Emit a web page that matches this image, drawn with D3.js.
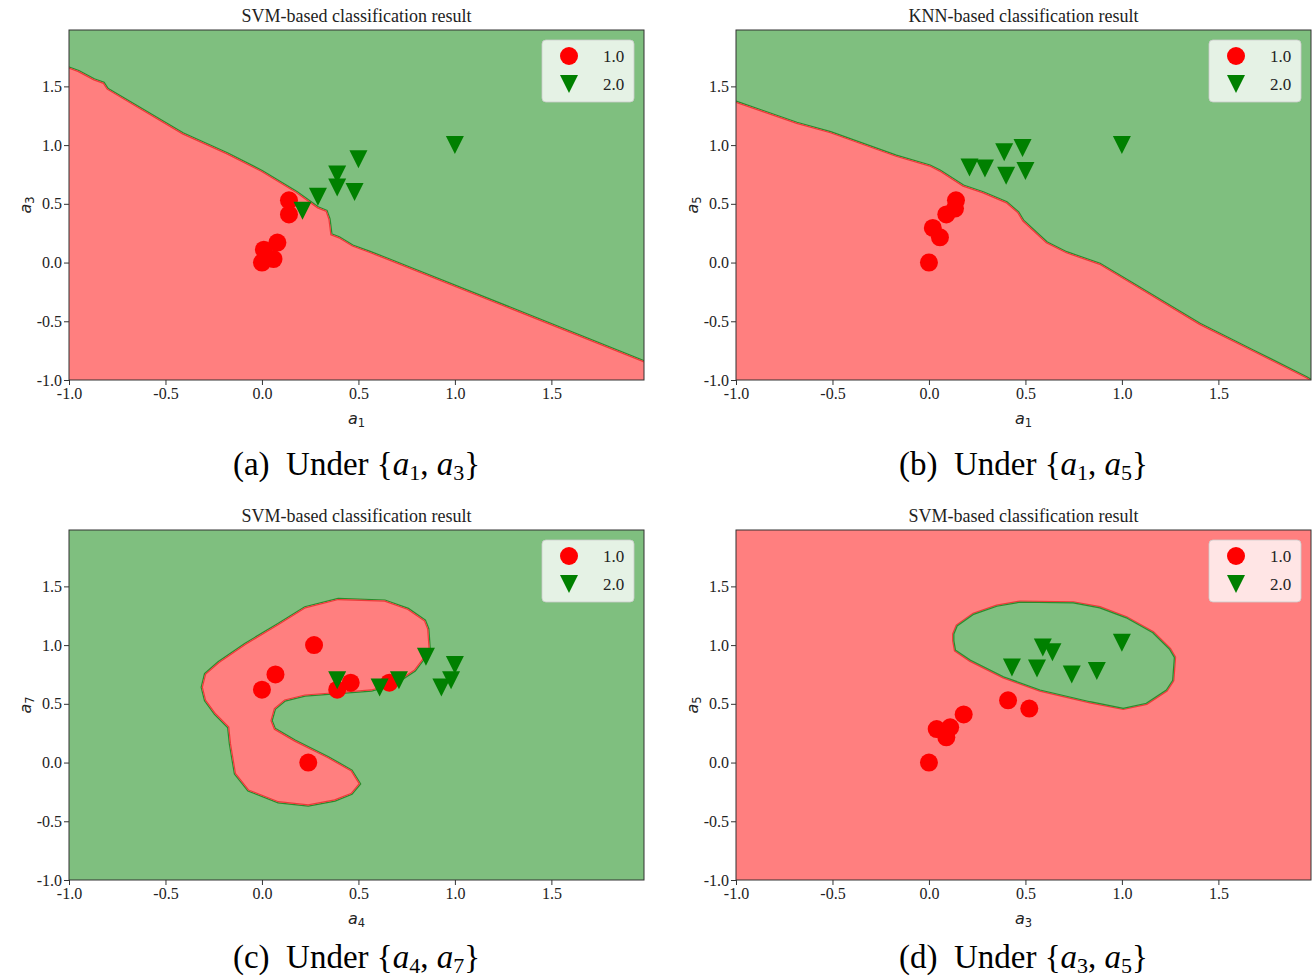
<!DOCTYPE html>
<html>
<head>
<meta charset="utf-8">
<script src="https://cdn.jsdelivr.net/npm/d3@7"></script>
<style>
  html, body { margin: 0; padding: 0; background: #fff; }
  svg { display: block; }
</style>
</head>
<body>
<svg id="fig" width="1313" height="980"></svg>
<script>
// ---- shared axis settings ----
const axisMin = -1.0;
const axisMax = 1.98;
const xTicks = [-1.0, -0.5, 0.0, 0.5, 1.0, 1.5];
const yTicks = [-1.0, -0.5, 0.0, 0.5, 1.0, 1.5];
const classLabels = ["1.0", "2.0"];

// ---- panel text ----
const panelTitles = [
  "SVM-based classification result",
  "KNN-based classification result",
  "SVM-based classification result",
  "SVM-based classification result"
];
const panelLetters = ["a", "b", "c", "d"];
const panelXAttr = ["1", "1", "4", "3"];
const panelYAttr = ["3", "5", "7", "5"];
// class that fills the background; the polygon holds the other class
const panelBackground = [2, 2, 2, 1];

// ---- samples, class 1.0 ----
const class1A = [[0.00, 0.00], [0.01, 0.11], [0.06, 0.03], [0.08, 0.17], [0.14, 0.41], [0.14, 0.53]];
const class1B = [[0.00, 0.00], [0.057, 0.215], [0.02, 0.295], [0.09, 0.41], [0.135, 0.46], [0.14, 0.53]];
const class1C = [[0.00, 0.62], [0.07, 0.75], [0.27, 1.00], [0.24, 0.00], [0.39, 0.62], [0.46, 0.68], [0.66, 0.68]];
const class1D = [[0.00, 0.00], [0.04, 0.285], [0.09, 0.215], [0.11, 0.30], [0.18, 0.41], [0.41, 0.53], [0.52, 0.46]];

// ---- samples, class 2.0 ----
const class2A = [[0.21, 0.44], [0.29, 0.56], [0.39, 0.64], [0.39, 0.75], [0.48, 0.60], [0.50, 0.88], [1.00, 1.00]];
const class2B = [[0.21, 0.81], [0.29, 0.80], [0.39, 0.94], [0.485, 0.975], [0.40, 0.74], [0.50, 0.78], [1.00, 1.00]];
const class2C = [[0.39, 0.70], [0.61, 0.64], [0.71, 0.70], [0.85, 0.90], [1.00, 0.83], [0.98, 0.70], [0.93, 0.64]];
const class2D = [[0.43, 0.81], [0.56, 0.80], [0.59, 0.98], [0.64, 0.94], [0.74, 0.75], [0.87, 0.78], [1.00, 1.02]];

// ---- decision boundaries ----
// (a) and (b): line from the left edge to the right edge; class 1.0 lies below it
const boundaryA = [[-1.0, 1.66], [-0.95, 1.63], [-0.87, 1.56], [-0.82, 1.53], [-0.80, 1.48], [-0.41, 1.10],
  [-0.18, 0.93], [0.0, 0.78], [0.18, 0.60], [0.29, 0.47], [0.335, 0.44], [0.35, 0.37], [0.36, 0.24],
  [0.40, 0.215], [0.47, 0.145], [0.56, 0.09], [0.655, 0.03], [1.98, -0.84]];
const boundaryB = [[-1.0, 1.37], [-0.86, 1.29], [-0.685, 1.19], [-0.51, 1.11], [-0.34, 1.01], [-0.17, 0.91],
  [0.005, 0.826], [0.057, 0.783], [0.178, 0.655], [0.281, 0.598], [0.403, 0.513], [0.463, 0.428],
  [0.489, 0.357], [0.61, 0.173], [0.713, 0.088], [0.886, -0.011], [1.059, -0.181], [1.404, -0.522],
  [1.68, -0.749], [1.957, -0.976], [1.98, -1.0]];
// (c): closed region of class 1.0
const regionC = [[0.395, 1.393], [0.637, 1.379], [0.758, 1.308], [0.845, 1.209], [0.862, 1.138], [0.870, 0.953],
  [0.845, 0.896], [0.793, 0.783], [0.689, 0.670], [0.568, 0.613], [0.344, 0.585], [0.223, 0.570],
  [0.119, 0.528], [0.067, 0.457], [0.050, 0.357], [0.067, 0.287], [0.171, 0.187], [0.344, 0.045],
  [0.465, -0.068], [0.508, -0.181], [0.465, -0.266], [0.378, -0.323], [0.240, -0.366], [0.084, -0.338],
  [-0.071, -0.238], [-0.140, -0.096], [-0.166, 0.159], [-0.175, 0.300], [-0.244, 0.414], [-0.295, 0.528],
  [-0.312, 0.641], [-0.295, 0.755], [-0.226, 0.854], [-0.088, 1.010], [0.084, 1.180], [0.223, 1.322]];
// (d): closed region of class 2.0
const regionD = [[0.126, 1.095], [0.144, 1.166], [0.230, 1.266], [0.351, 1.336], [0.472, 1.370], [0.748, 1.364],
  [0.886, 1.322], [1.024, 1.237], [1.162, 1.109], [1.249, 0.968], [1.275, 0.896], [1.266, 0.698],
  [1.232, 0.613], [1.128, 0.500], [1.007, 0.457], [0.834, 0.513], [0.575, 0.613], [0.385, 0.726],
  [0.212, 0.868], [0.135, 0.953], [0.126, 1.038]];

const class1Sets = [class1A, class1B, class1C, class1D];
const class2Sets = [class2A, class2B, class2C, class2D];
const regionShapes = [boundaryA, boundaryB, regionC, regionD];
const regionIsOpenLine = [true, true, false, false];

// ---- styling ----
const fillColor = {1: "#ff7f7f", 2: "#7fbf7f"};
const edgeColor = {1: "#ee3a3a", 2: "#2c8a2c"};
const markerColor = {1: "#ff0000", 2: "#008000"};
const serif = "'Liberation Serif', 'Times New Roman', serif";
const sans = "'DejaVu Sans', sans-serif";

const panelLeft = [69, 736, 69, 736];
const panelTop = [30, 30, 530, 530];
const captionBaseline = [475, 475, 968, 968];
const plotW = 575, plotH = 350;

const svg = d3.select("#fig");
const defs = svg.append("defs");

panelTitles.forEach((title, i) => {
  const x0 = panelLeft[i], y0 = panelTop[i];
  const x = d3.scaleLinear().domain([axisMin, axisMax]).range([0, plotW]);
  const y = d3.scaleLinear().domain([axisMin, axisMax]).range([plotH, 0]);
  const g = svg.append("g").attr("transform", `translate(${x0},${y0})`);

  // clip to the plotting area
  const plotClip = `plot-clip-${i}`;
  defs.append("clipPath").attr("id", plotClip)
    .append("rect").attr("width", plotW).attr("height", plotH);

  // build the region polygon in data space
  let poly = regionShapes[i].slice();
  if (regionIsOpenLine[i]) {
    const first = poly[0], last = poly[poly.length - 1];
    const pad = 0.5;
    poly = poly.concat([[axisMax + pad, last[1]], [axisMax + pad, axisMin - pad],
                        [axisMin - pad, axisMin - pad], [axisMin - pad, first[1]]]);
  }
  const lineGen = d3.line().x(d => x(d[0])).y(d => y(d[1])).curve(d3.curveLinearClosed);
  const polyPath = lineGen(poly);

  const bgClass = panelBackground[i];
  const fgClass = bgClass === 1 ? 2 : 1;

  const regionClip = `region-clip-${i}`;
  defs.append("clipPath").attr("id", regionClip).append("path").attr("d", polyPath);

  const area = g.append("g").attr("clip-path", `url(#${plotClip})`);
  area.append("rect").attr("width", plotW).attr("height", plotH).attr("fill", fillColor[bgClass]);
  area.append("path").attr("d", polyPath).attr("fill", "none")
    .attr("stroke", edgeColor[bgClass]).attr("stroke-width", 2.4);
  area.append("path").attr("d", polyPath).attr("fill", fillColor[fgClass]);
  area.append("g").attr("clip-path", `url(#${regionClip})`)
    .append("path").attr("d", polyPath).attr("fill", "none")
    .attr("stroke", edgeColor[fgClass]).attr("stroke-width", 2.4);

  // samples: class 1.0 circles, then class 2.0 triangles
  const r = 9;
  area.selectAll("circle.c1").data(class1Sets[i]).join("circle")
    .attr("class", "c1")
    .attr("cx", d => x(d[0])).attr("cy", d => y(d[1])).attr("r", r)
    .attr("fill", markerColor[1]);
  const tri = (cx, cy) => `M${cx - r},${cy - r}L${cx + r},${cy - r}L${cx},${cy + r}Z`;
  area.selectAll("path.c2").data(class2Sets[i]).join("path")
    .attr("class", "c2")
    .attr("d", d => tri(x(d[0]), y(d[1])))
    .attr("fill", markerColor[2]);

  // frame
  g.append("rect").attr("width", plotW).attr("height", plotH)
    .attr("fill", "none").attr("stroke", "#333").attr("stroke-width", 1);

  // axes
  const fmt = d => d.toFixed(1);
  const xAxis = g.append("g").attr("transform", `translate(0,${plotH})`)
    .call(d3.axisBottom(x).tickValues(xTicks).tickFormat(fmt).tickSize(5).tickPadding(3));
  const yAxis = g.append("g")
    .call(d3.axisLeft(y).tickValues(yTicks).tickFormat(fmt).tickSize(5).tickPadding(2));
  [xAxis, yAxis].forEach(ax => {
    ax.select(".domain").remove();
    ax.selectAll(".tick line").attr("stroke", "#333");
    ax.selectAll(".tick text").attr("fill", "#222")
      .style("font-family", serif).style("font-size", "16px");
  });

  // axis labels (a_i)
  const xl = g.append("text").attr("x", plotW / 2).attr("y", plotH + 44)
    .attr("text-anchor", "middle").style("font-family", sans).style("font-size", "16px").attr("fill", "#222");
  xl.append("tspan").style("font-style", "italic").text("a");
  xl.append("tspan").attr("dy", 3).style("font-size", "11.5px").text(panelXAttr[i]);

  const yl = g.append("text").attr("transform", `translate(-38,${plotH / 2}) rotate(-90)`)
    .attr("text-anchor", "middle").style("font-family", sans).style("font-size", "16px").attr("fill", "#222");
  yl.append("tspan").style("font-style", "italic").text("a");
  yl.append("tspan").attr("dy", 3).style("font-size", "11.5px").text(panelYAttr[i]);

  // title
  g.append("text").attr("x", plotW / 2).attr("y", -8).attr("text-anchor", "middle")
    .style("font-family", serif).style("font-size", "18px").attr("fill", "#222")
    .text(title);

  // legend
  const lg = g.append("g").attr("transform", `translate(${plotW - 102},10)`);
  lg.append("rect").attr("width", 92).attr("height", 62).attr("rx", 4)
    .attr("fill", "#fff").attr("fill-opacity", 0.8)
    .attr("stroke", "#ccc").attr("stroke-opacity", 0.8);
  lg.append("circle").attr("cx", 27).attr("cy", 16).attr("r", r).attr("fill", markerColor[1]);
  lg.append("path").attr("d", tri(27, 44)).attr("fill", markerColor[2]);
  classLabels.forEach((lab, k) => {
    lg.append("text").attr("x", 61).attr("y", 16 + 28 * k).attr("dy", "0.35em")
      .style("font-family", serif).style("font-size", "17px").attr("fill", "#222").text(lab);
  });

  // caption
  const cap = svg.append("text").attr("x", x0 + plotW / 2).attr("y", captionBaseline[i])
    .attr("text-anchor", "middle").style("font-family", serif).style("font-size", "33px")
    .attr("fill", "#000").attr("xml:space", "preserve");
  cap.append("tspan").text(`(${panelLetters[i]})  Under {`);
  cap.append("tspan").style("font-style", "italic").text("a");
  cap.append("tspan").attr("dy", 5).style("font-size", "22px").text(panelXAttr[i]);
  cap.append("tspan").attr("dy", -5).text(", ");
  cap.append("tspan").style("font-style", "italic").text("a");
  cap.append("tspan").attr("dy", 5).style("font-size", "22px").text(panelYAttr[i]);
  cap.append("tspan").attr("dy", -5).text("}");
});
</script>
</body>
</html>
